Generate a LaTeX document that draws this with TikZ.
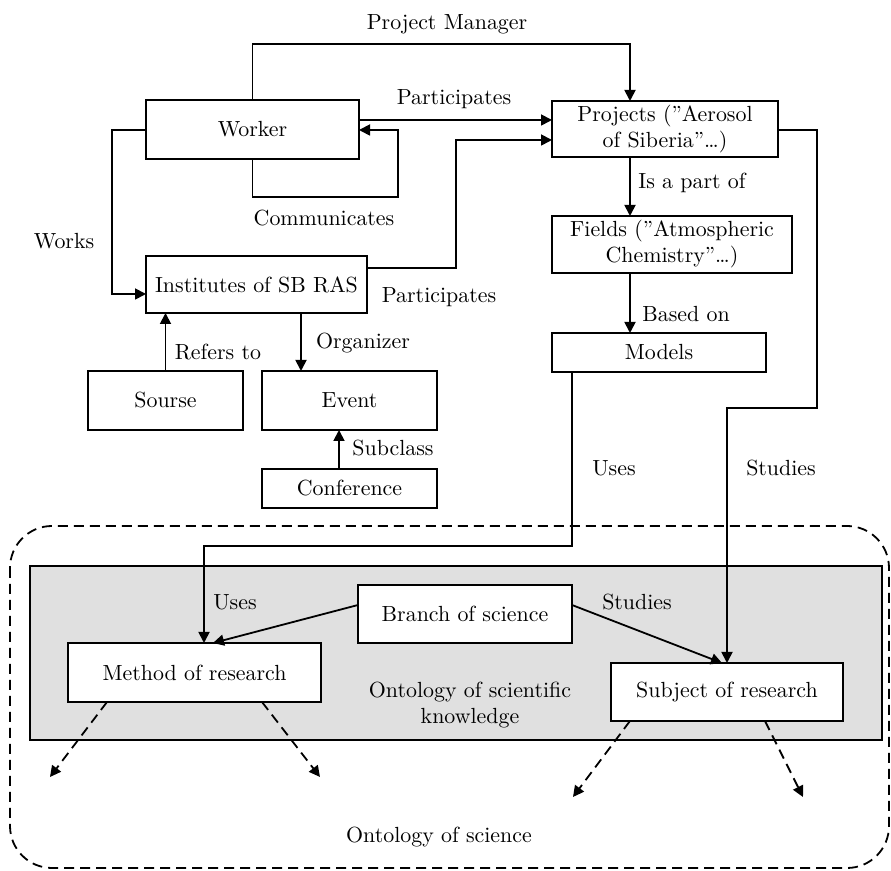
\documentclass[tikz,border=0pt]{standalone}
\usetikzlibrary{arrows.meta}
\begin{document}
\begin{tikzpicture}[x=0.5pt,y=-0.5pt,
  font=\fontsize{10.95}{13}\selectfont,
  line width=0.9pt,
  box/.style={draw, fill=white, inner sep=0pt, outer sep=0pt, align=center},
  arr/.style={-{Triangle[length=5.5pt,width=5.5pt]}},
  darr/.style={arr, dash pattern=on 5pt off 3pt},
  lbl/.style={inner sep=0pt}]
\useasboundingbox (0,0) rectangle (891,871);
% outer dashed region and grey region
\draw[dash pattern=on 5pt off 3pt, rounded corners=21pt] (10,526) rectangle (889,868);
\draw[fill=black!12] (30,566) rectangle (882,740);
% nodes
\node[box, minimum width=106.5pt, minimum height=29.5pt] (worker) at (252.5,129.5) {Worker};
\node[box, minimum width=113pt, minimum height=28pt] (projects) at (665,129) {Projects (''Aerosol\\of Siberia''\ldots)};
\node[box, minimum width=120pt, minimum height=28.5pt] (fields) at (672,244.5) {Fields (''Atmospheric\\Chemistry''\ldots)};
\node[box, minimum width=107pt, minimum height=19.5pt] (models) at (659,352.5) {Models};
\node[box, minimum width=110.5pt, minimum height=28.5pt] (inst) at (256.5,284.5) {Institutes of SB RAS};
\node[box, minimum width=77.5pt, minimum height=29.5pt] (sourse) at (165.5,400.5) {Sourse};
\node[box, minimum width=87.5pt, minimum height=29.5pt] (event) at (349.5,400.5) {Event};
\node[box, minimum width=87.5pt, minimum height=19.5pt] (conf) at (349.5,488.5) {Conference};
\node[box, minimum width=107pt, minimum height=29pt] (branch) at (465,614) {Branch of science};
\node[box, minimum width=126.5pt, minimum height=29.5pt] (method) at (194.5,672.5) {Method of research};
\node[box, minimum width=116pt, minimum height=29pt] (subject) at (727,692) {Subject of research};
% helper coordinates
\coordinate (pm) at (630,44);
\coordinate (y120) at (0,120);
\coordinate (y130) at (0,130);
\coordinate (y268) at (0,268);
\coordinate (y605) at (0,605);
\coordinate (c1) at (398,197);
\coordinate (w1) at (112,294);
\coordinate (ip) at (456,140);
\coordinate (s1) at (817,408);
\coordinate (u1) at (572,546);
\coordinate (u2) at (204,546);
\coordinate (mt) at (213,643);
\coordinate (st) at (722,663);
\coordinate (ma) at (107,702);
\coordinate (mb) at (262,702);
\coordinate (ea) at (50,777);
\coordinate (eb) at (320,777);
\coordinate (sa) at (630,721);
\coordinate (sb) at (765,721);
\coordinate (ec) at (573,797);
\coordinate (ed) at (803,797);
% connectors
\draw[arr] (worker.north) |- (pm) -- (projects.north -| pm);
\draw[arr] (worker.east |- y120) -- (projects.west |- y120);
\draw[arr] (worker.south) |- (c1) |- (worker.east |- y130);
\draw[arr] (worker.west |- y130) -| (w1) -- (inst.west |- w1);
\draw[arr] (inst.east |- y268) -| (ip) -- (projects.west |- ip);
\draw[arr] (projects.south -| pm) -- (fields.north -| pm);
\draw[arr] (fields.south -| pm) -- (models.north -| pm);
\draw[arr] (sourse.north) -- (inst.south -| sourse.north);
\draw[arr] (inst.south -| 301,0) -- (event.north -| 301,0);
\draw[arr] (conf.north -| 339,0) -- (event.south -| 339,0);
\draw[arr] (projects.east |- y130) -| (s1) -| (subject.north);
\draw[arr] (models.south -| u1) -- (u1) -- (u2) -- (method.north -| u2);
\draw[arr] (branch.west |- y605) -- (mt);
\draw[arr] (branch.east |- y605) -- (st);
\draw[darr] (ma) -- (ea);
\draw[darr] (mb) -- (eb);
\draw[darr] (sa) -- (ec);
\draw[darr] (sb) -- (ed);
% labels
\node[lbl] (lpm) at (447,24) {Project Manager};
\node[lbl] (lp1) at (454,99) {Participates};
\node[lbl] (lcom) at (324,218) {Communicates};
\node[lbl] (lwk) at (64,241) {Works};
\node[lbl] (lp2) at (439,297) {Participates};
\node[lbl] (lpart) at (692,183) {Is a part of};
\node[lbl] (lbase) at (686,314) {Based on};
\node[lbl] (lref) at (218,352) {Refers to};
\node[lbl] (lorg) at (363,343) {Organizer};
\node[lbl] (lsub) at (393,448) {Subclass};
\node[lbl] (luse1) at (614,468) {Uses};
\node[lbl] (lstu1) at (781,468) {Studies};
\node[lbl] (luse2) at (235,602) {Uses};
\node[lbl] (lstu2) at (637,602) {Studies};
\node[lbl, align=center] (losk) at (470,705) {Ontology of scientific\\knowledge};
\node[lbl] (los) at (439,837) {Ontology of science};
\end{tikzpicture}
\end{document}
